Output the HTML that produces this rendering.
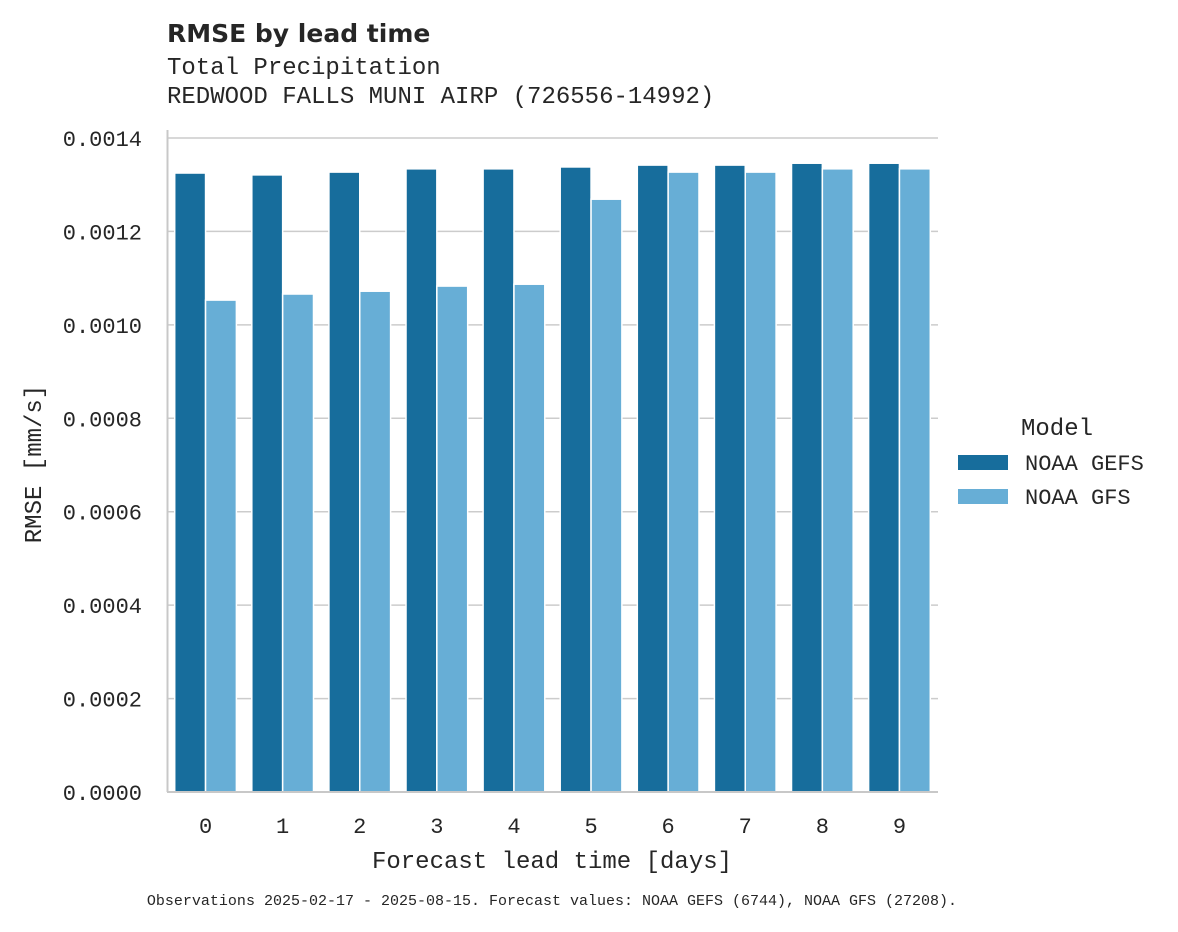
<!DOCTYPE html>
<html><head><meta charset="utf-8"><style>
body{margin:0;background:#fff;}
svg text{font-family:"Liberation Mono","DejaVu Sans Mono",monospace;fill:#262626;}
</style></head><body>
<svg width="1178" height="927" xmlns="http://www.w3.org/2000/svg">
<text x="167" y="42" style="font-family:'DejaVu Sans',sans-serif;font-weight:bold;font-size:25px">RMSE by lead time</text>
<text x="167" y="74" font-size="24">Total Precipitation</text>
<text x="167" y="103" font-size="24">REDWOOD FALLS MUNI AIRP (726556-14992)</text>
<g id="grid"></g>
<g id="bars"></g>
<line x1="167.5" y1="130" x2="167.5" y2="792" stroke="#c8c8c8" stroke-width="2"/>
<line x1="167" y1="792" x2="938" y2="792" stroke="#c8c8c8" stroke-width="2"/>
<g id="yticks"></g>
<g id="xticks"></g>
<text x="552" y="868" font-size="24" text-anchor="middle">Forecast lead time [days]</text>
<text transform="translate(41,464) rotate(-90)" font-size="24" text-anchor="middle">RMSE [mm/s]</text>
<g>
<text x="1057" y="435" font-size="24" text-anchor="middle">Model</text>
<rect x="958" y="455" width="50" height="15" fill="#176d9c"/>
<text x="1025" y="470" font-size="22">NOAA GEFS</text>
<rect x="958" y="489" width="50" height="15" fill="#67aed6"/>
<text x="1025" y="504" font-size="22">NOAA GFS</text>
</g>
<text x="552" y="905" font-size="15" text-anchor="middle">Observations 2025-02-17 - 2025-08-15. Forecast values: NOAA GEFS (6744), NOAA GFS (27208).</text>
</svg>
<script>
const categories=["0","1","2","3","4","5","6","7","8","9"];
const gefs=[0.001325,0.001321,0.001327,0.001334,0.001334,0.001338,0.001342,0.001342,0.001346,0.001346];
const gfs=[0.001053,0.001066,0.001072,0.001083,0.001087,0.001269,0.001327,0.001327,0.001334,0.001334];
const yTicks=[0,0.0002,0.0004,0.0006,0.0008,0.0010,0.0012,0.0014];
const yTickLabels=["0.0000","0.0002","0.0004","0.0006","0.0008","0.0010","0.0012","0.0014"];
const NS="http://www.w3.org/2000/svg";
const x0=167,x1=938,y0=792,yTop=138,yMax=0.0014;
const y=v=>y0-(v/yMax)*(y0-yTop);
const band=(x1-x0)/categories.length;
const xc=i=>x0+band*(i+0.5);
function mk(t,a,p){const e=document.createElementNS(NS,t);for(const k in a)e.setAttribute(k,a[k]);p.appendChild(e);return e;}
const grid=document.getElementById('grid'),bars=document.getElementById('bars'),yt=document.getElementById('yticks'),xt=document.getElementById('xticks');
yTicks.forEach((v,i)=>{
 const l=mk('line',{x1:x0,x2:x1,y1:y(v),y2:y(v),stroke:'#cccccc','stroke-width':1.5},grid);
 
 
 const t=mk('text',{x:142,y:y(v)+8,'font-size':22,'text-anchor':'end'},yt);
 t.textContent=yTickLabels[i];
 
 
});
const bw=band*0.4;
categories.forEach((c,i)=>{
 const c1=xc(i);
 const r1=mk('rect',{x:c1-bw,y:y(gefs[i]),width:bw,height:y0-y(gefs[i]),fill:'#176d9c',stroke:'#fff','stroke-width':1.5},bars);
 
 
 const r2=mk('rect',{x:c1,y:y(gfs[i]),width:bw,height:y0-y(gfs[i]),fill:'#67aed6',stroke:'#fff','stroke-width':1.5},bars);
 
 
 const t=mk('text',{x:c1,y:833,'font-size':22,'text-anchor':'middle'},xt);
 t.textContent=c;
 
 
});
</script>
</body></html>
